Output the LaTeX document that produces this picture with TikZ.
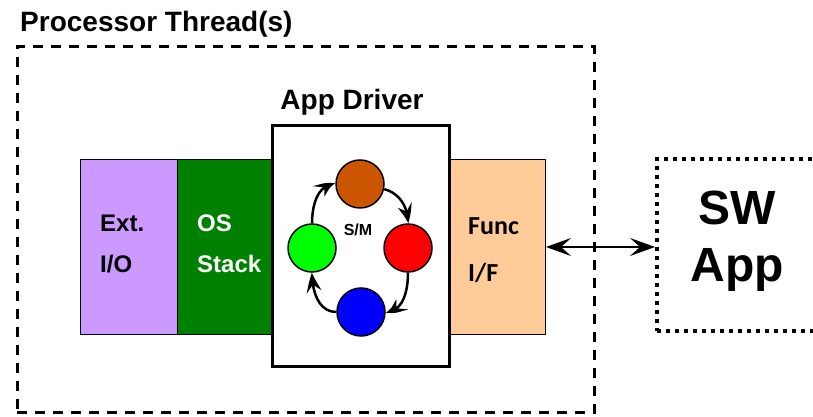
\documentclass[tikz,border=0pt]{standalone}
\usepackage{fontspec}
\setmainfont{Liberation Sans}
\newfontfamily\calib{Carlito}
\usetikzlibrary{arrows.meta,bending}
\definecolor{lav}{RGB}{204,153,255}
\definecolor{osgreen}{RGB}{0,128,0}
\definecolor{peach}{RGB}{255,204,153}
\definecolor{rust}{RGB}{204,85,0}
\begin{document}
\begin{tikzpicture}[x=1pt,y=1pt,
  layer/.style={draw=black, line width=1pt, inner sep=0pt, anchor=south west,
                minimum width=97pt, minimum height=175pt},
  state/.style={circle, draw=black, line width=1.5pt, minimum size=48pt, inner sep=0pt},
  lbl/.style={font=\bfseries\fontsize{24}{24}\selectfont, anchor=base west, inner sep=0pt},
  flbl/.style={font=\calib\bfseries\fontsize{26}{26}\selectfont, anchor=base west, inner sep=0pt},
  title/.style={font=\bfseries\fontsize{28}{28}\selectfont, inner sep=0pt},
  trans/.style={line width=2.5pt, -{Stealth[length=19pt,width=15pt,inset=7pt,bend]}},
  bigarrow/.style={line width=2pt, {Stealth[length=25pt,width=18pt,inset=10pt]}-{Stealth[length=25pt,width=18pt,inset=10pt]}},
]
\useasboundingbox (0,0) rectangle (813,417);

% processor thread container
\node[title, anchor=base west] (pt) at (20,385) {Processor Thread(s)};
\node[draw, line width=2.5pt, dash pattern=on 10pt off 8pt, anchor=south west,
      minimum width=577pt, minimum height=366pt, inner sep=0pt] (thread) at (16,3) {};

% layered stack
\node[layer, fill=lav] (ext) at (80,82) {};
\node[layer, fill=osgreen, minimum width=94pt] (os) at (177,82) {};
\node[layer, fill=peach] (func) at (448,82) {};
\node[draw=black, fill=white, line width=3pt, anchor=south west, inner sep=0pt,
      minimum width=177pt, minimum height=241pt] (drv) at (271,49) {};

\node[lbl] (extA) at (100,185) {Ext.};
\node[lbl] (extB) at (100,144) {I/O};
\node[lbl, text=white] (osA) at (197,185) {OS};
\node[lbl, text=white] (osB) at (197,144) {Stack};
\node[flbl] (funcA) at (468,182) {Func};
\node[flbl] (funcB) at (468,135) {I/F};
\node[title, anchor=base] (drvt) at (352,307) {App Driver};

% state machine
\node[state, fill=rust] (s1) at (360,233) {};
\node[state, fill=red] (s2) at (408,169) {};
\node[state, fill=blue] (s3) at (361,105) {};
\node[state, fill=green] (s4) at (312,169) {};
\node[font=\bfseries\fontsize{16}{16}\selectfont, inner sep=0pt] (sm) at (358,187) {S/M};

\draw[trans] (s1.-12) to[out=-15, in=90] (s2.north);
\draw[trans] (s2.south) to[out=-90, in=0] (s3.east);
\draw[trans] (s3.west) to[out=180, in=-90] (s4.south);
\draw[trans] (s4.north) to[out=90, in=180] (s1.west);

% software application
\node[draw, line width=4pt, dash pattern=on 4pt off 5pt, anchor=south west,
      minimum width=185pt, minimum height=172pt, inner sep=0pt] (sw) at (655,84) {};
\node[font=\bfseries\fontsize{48}{48}\selectfont, anchor=base, inner sep=0pt] (swA) at (737,192) {SW};
\node[font=\bfseries\fontsize{48}{48}\selectfont, anchor=base, inner sep=0pt] (swB) at (737,135) {App};

\draw[bigarrow] (func.east) -- (func.east -| sw.west);
\end{tikzpicture}
\end{document}
